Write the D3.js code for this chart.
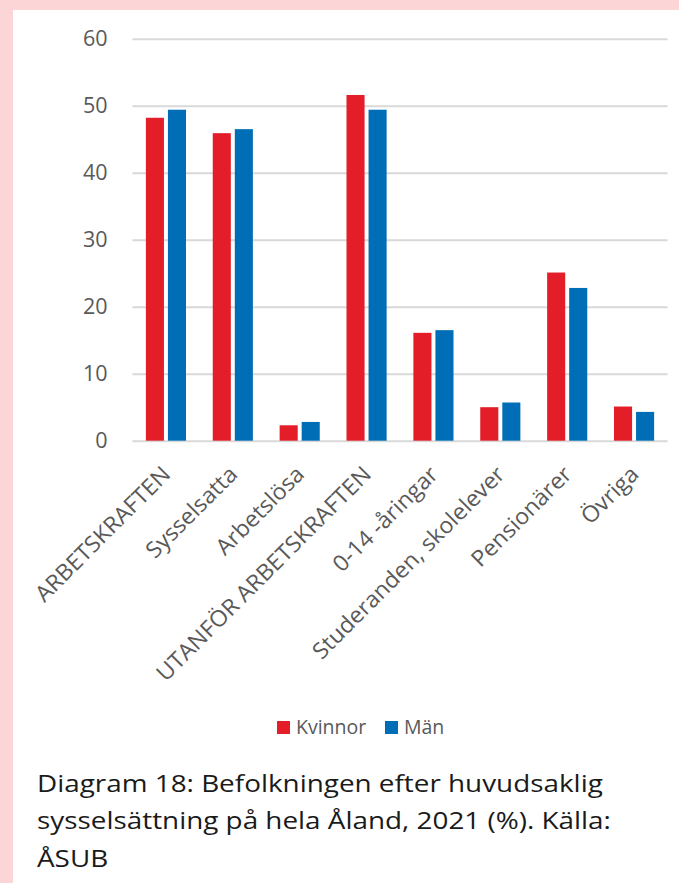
<!DOCTYPE html>
<html>
<head>
<meta charset="utf-8">
<script src="https://cdn.jsdelivr.net/npm/d3@7"></script>
<style>
  html, body { margin: 0; padding: 0; background: #fcd6d7; }
  svg { display: block; }
</style>
</head>
<body>
<svg id="chart" width="679" height="883"></svg>
<script>
const categories = ["ARBETSKRAFTEN", "Sysselsatta", "Arbetslösa", "UTANFÖR ARBETSKRAFTEN",
  "0-14 -åringar", "Studeranden, skolelever", "Pensionärer", "Övriga"];
const seriesNames = ["Kvinnor", "Män"];
const kvinnor = [48.2, 45.9, 2.3, 51.6, 16.1, 5.0, 25.1, 5.1];
const man = [49.4, 46.5, 2.8, 49.4, 16.5, 5.7, 22.8, 4.3];
const yTicks = [0, 10, 20, 30, 40, 50, 60];
const seriesColors = ["#e31e28", "#006eb6"];
const captionLines = ["Diagram 18: Befolkningen efter huvudsaklig",
  "sysselsättning på hela Åland, 2021 (%). Källa:", "ÅSUB"];

const svg = d3.select("#chart");
const font = "'Open Sans', 'Noto Sans', sans-serif";

// white panel
svg.append("rect").attr("x", 13).attr("y", 10).attr("width", 679 - 13).attr("height", 883 - 10).attr("fill", "#ffffff");

const plot = { left: 132.5, right: 667.5, top: 38.7, bottom: 440.7 };

const x0 = d3.scaleBand().domain(categories).range([plot.left, plot.right]).paddingInner(0.4).paddingOuter(0.2);
const x1 = d3.scaleBand().domain(seriesNames).range([0, x0.bandwidth()]).paddingInner(0.18);
const y = d3.scaleLinear().domain([0, 60]).range([plot.bottom, plot.top]);

// gridlines
const yAxis = d3.axisLeft(y).tickValues(yTicks).tickSize(-(plot.right - plot.left)).tickPadding(25);
const gy = svg.append("g").attr("transform", `translate(${plot.left},0)`).call(yAxis);
gy.select(".domain").remove();
gy.selectAll(".tick line").attr("stroke", "#d9d9d9").attr("stroke-width", 2);
gy.selectAll(".tick text").attr("fill", "#595959").attr("font-family", font).attr("font-size", 21.5);

// bars
const rows = categories.map((c, i) => ({ cat: c, vals: [kvinnor[i], man[i]] }));
const groups = svg.append("g").selectAll("g").data(rows).join("g")
  .attr("transform", d => `translate(${x0(d.cat)},0)`);
groups.selectAll("rect").data(d => d.vals.map((v, j) => ({ name: seriesNames[j], v, j })))
  .join("rect")
  .attr("x", d => x1(d.name))
  .attr("width", x1.bandwidth())
  .attr("y", d => y(d.v))
  .attr("height", d => y(0) - y(d.v))
  .attr("fill", d => seriesColors[d.j]);

// x labels
const xAxis = d3.axisBottom(x0).tickSize(0).tickPadding(0);
const gx = svg.append("g").attr("transform", `translate(0,${plot.bottom})`).call(xAxis);
gx.select(".domain").remove();
gx.selectAll(".tick text")
  .attr("fill", "#595959").attr("font-family", font).attr("font-size", 22.5)
  .attr("text-anchor", "end")
  .attr("dy", null).attr("y", null)
  .attr("transform", "translate(6,35) rotate(-45) scale(1.03,1)");

// legend
const legend = svg.append("g");
const legendItems = [{ name: seriesNames[0], x: 277 }, { name: seriesNames[1], x: 385 }];
legendItems.forEach((it, i) => {
  legend.append("rect").attr("x", it.x).attr("y", 721).attr("width", 13).attr("height", 13).attr("fill", seriesColors[i]);
  legend.append("text").attr("x", it.x + 19).attr("y", 734).attr("fill", "#595959")
    .attr("font-family", font).attr("font-size", 19.5).text(it.name);
});

// caption
const cap = svg.append("g");
const capTexts = cap.selectAll("text").data(captionLines).join("text")
  .attr("x", 0).attr("y", (d, i) => 792 + i * 37.5)
  .attr("fill", "#1a1a1a").attr("font-family", font).attr("font-size", 23.5)
  .text(d => d);
const w0 = capTexts.node().getComputedTextLength();
const sx = 566 / w0;
cap.attr("transform", `translate(37,0) scale(${sx},1)`);
</script>
</body>
</html>
